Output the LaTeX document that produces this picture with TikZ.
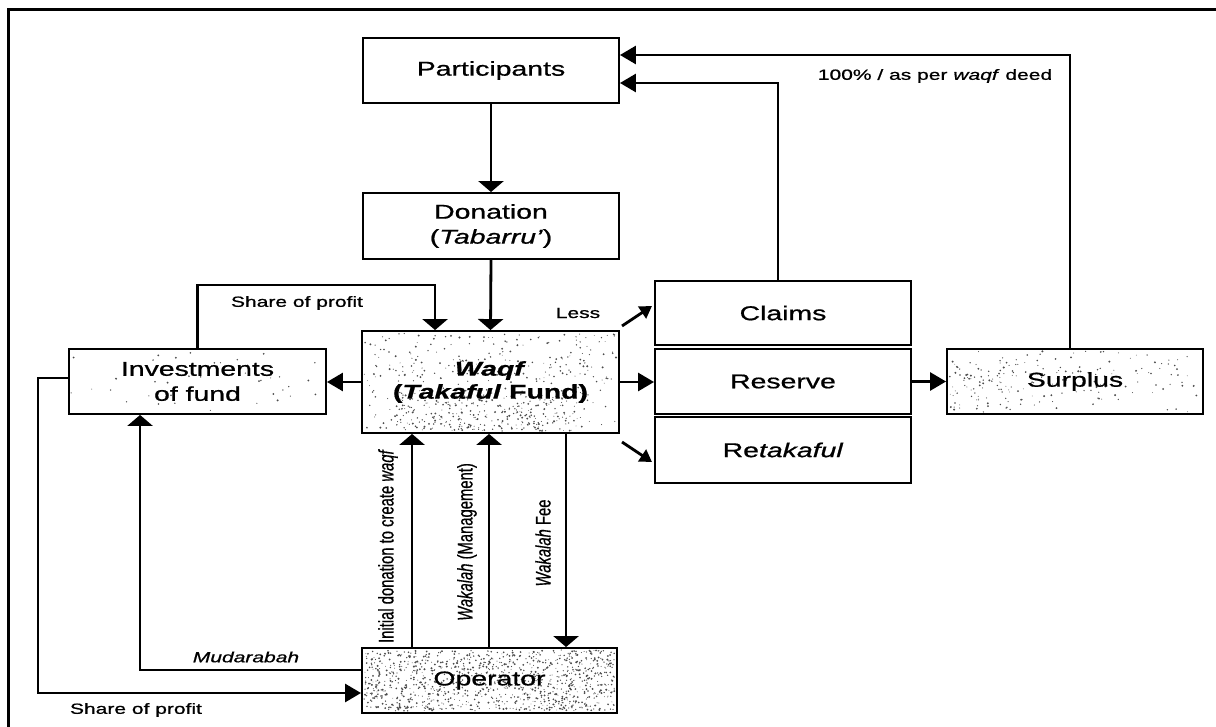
\documentclass[tikz,border=0pt]{standalone}
\usepackage{fontspec}
\setmainfont{Liberation Sans}[FakeBold=0.7]
\usetikzlibrary{arrows.meta,calc}
\pgfdeclarelayer{background}
\pgfsetlayers{background,main}
% wide (horizontal) and tall (for rotated labels) lettering
\newcommand\hs[1]{\scalebox{1.42}[1]{#1}}
\newcommand\vs[1]{\scalebox{1}[1.42]{#1}}
% random stipple inside a rectangle: x0, y0, width, height, count
\newcommand\speckle[5]{%
  \foreach \k in {1,...,#5}{%
    \pgfmathsetmacro\sx{#1+#3*rnd}%
    \pgfmathsetmacro\sy{#2+#4*rnd}%
    \pgfmathsetmacro\sr{0.4+0.7*rnd}%
    \fill[black!70] (\sx,\sy) circle (\sr pt);
  }}
\begin{document}
\begin{tikzpicture}[x=1pt,y=-1pt,
  box/.style={draw, line width=1.9pt, inner sep=0pt, minimum width=256pt,
    minimum height=65pt, align=center, font=\fontsize{20}{25}\selectfont},
  lbl/.style={inner sep=0pt, font=\fontsize{14.8}{17}\selectfont},
  conn/.style={line width=2.8pt},
  hend/.style={conn, -{Triangle[length=16pt,width=18pt]}},
  vend/.style={conn, -{Triangle[length=11pt,width=25pt]}},
  send/.style={conn, -{Triangle[length=12pt,width=14pt]}}]
\useasboundingbox (0,0) rectangle (1216,727);

% outer frame (top and left rules)
\draw[line width=3pt] (8,727) -- (8,9.5) -- (1216,9.5);

% boxes
\node[box] (Participants) at (491,70.5) {\hs{Participants}};
\node[box, minimum height=66pt] (Donation) at (491,226)
  {\hs{Donation}\\\hs{(\textit{Tabarru'})}};
\node[box, minimum width=257pt, minimum height=102pt,
  font=\bfseries\fontsize{20}{23}\selectfont] (Waqf) at (490.5,382)
  {\hs{\textit{Waqf}}\\\hs{(\textit{Takaful} Fund)}};
\node[box, minimum width=257pt] (Investments) at (197.5,381.5)
  {\hs{Investments}\\\hs{of fund}};
\node[box, minimum height=64pt] (Claims) at (783,313) {\hs{Claims}};
\node[box] (Reserve) at (783,381.5) {\hs{Reserve}};
\node[box, minimum height=66pt] (Retakaful) at (783,450) {\hs{Re\textit{takaful}}};
\node[box] (Surplus) at (1075,381.5) {\hs{Surplus}};
\node[box, minimum width=255pt] (Operator) at (489.5,680.5) {\hs{Operator}};

% stippled fills
\begin{pgfonlayer}{background}
  \pgfmathsetseed{12}
  \speckle{364}{650}{251}{61}{1100}
  \speckle{364}{333}{253}{98}{380}
  \speckle{400}{395}{170}{36}{220}
  \speckle{949}{351}{252}{61}{120}
  \speckle{949}{360}{110}{50}{80}
  \speckle{71}{351}{253}{61}{40}
\end{pgfonlayer}

% main flow
\draw[vend] (Participants.south) -- (Donation.north);
\draw[vend] (Donation.south) -- (Waqf.north);
\draw[hend] (Waqf.west) -- (Waqf.west -| Investments.east);
\draw[hend] (Waqf.east) -- (Waqf.east -| Reserve.west);
\draw[hend] (Reserve.east) -- (Surplus.west);

% share of profit back into the fund
\draw[vend] (Investments.north) -- ++(0,-63)
  -| ($(Waqf.north west)+(74,0)$);
\node[lbl] (sp1) at (297,303) {\hs{Share of profit}};

% deductions from the fund
\coordinate (l1s) at (622,326);
\coordinate (l1e) at (652,306);
\coordinate (l2s) at (622,442);
\coordinate (l2e) at (652,462);
\draw[send] (l1s) -- (l1e);
\draw[send] (l2s) -- (l2e);
\node[lbl] (less) at (578,313) {\hs{Less}};

% returns to participants
\draw[hend] ($(Claims.north)+(-5,0)$) |- ($(Participants.east)+(0,12.5)$);
\draw[hend] ($(Surplus.north)+(-5,0)$) |- ($(Participants.east)+(0,-15.5)$);
\node[lbl] (deed) at (935,76) {\hs{100\% / as per \textit{waqf} deed}};

% operator links
\draw[vend] ($(Operator.north west)+(51,0)$) -- ($(Waqf.south west)+(51,0)$);
\draw[vend] ($(Operator.north west)+(128,0)$) -- ($(Waqf.south west)+(128,0)$);
\draw[vend] ($(Waqf.south west)+(205,0)$) -- ($(Operator.north west)+(205,0)$);
\node[lbl, rotate=90] (init) at (388,546) {\vs{Initial donation to create \textit{waqf}}};
\node[lbl, rotate=90] (mgmt) at (467,542) {\vs{\textit{Wakalah} (Management)}};
\node[lbl, rotate=90] (fee) at (543,543) {\vs{\textit{Wakalah} Fee}};

% mudarabah and profit share loop
\draw[vend] ($(Operator.west)+(0,-10.5)$) -| ($(Investments.south west)+(72,0)$);
\node[lbl] (mud) at (246,657) {\hs{\textit{Mudarabah}}};
\draw[hend] ($(Investments.west)+(0,-3.5)$) -- ++(-30,0)
  |- ($(Operator.west)+(0,12.5)$);
\node[lbl] (sp2) at (136,710) {\hs{Share of profit}};
\end{tikzpicture}
\end{document}
